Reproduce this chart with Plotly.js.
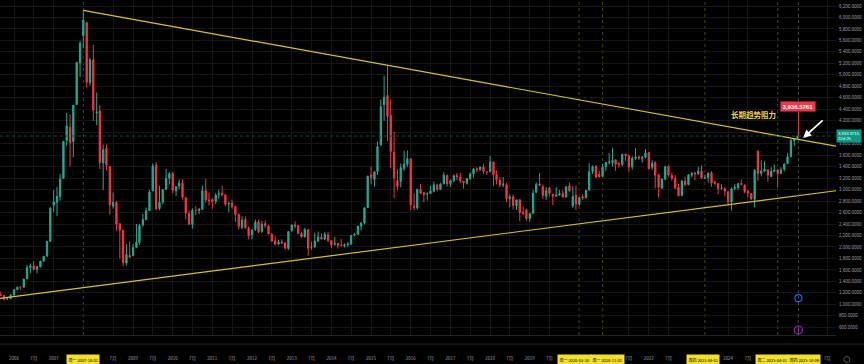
<!DOCTYPE html>
<html>
<head>
<meta charset="utf-8">
<script src="https://cdn.plot.ly/plotly-3.0.1.min.js"></script>
<style>html,body{margin:0;padding:0;background:#000;}#chart{width:864px;height:364px;}</style>
</head>
<body>
<div id="chart"></div>
<script>
// Monthly bars: 2005-09 .. 2025-10 (SSE Composite)
const months = [
 '2005-09-01','2005-10-01','2005-11-01','2005-12-01',
 '2006-01-01','2006-02-01','2006-03-01','2006-04-01','2006-05-01','2006-06-01','2006-07-01','2006-08-01','2006-09-01','2006-10-01','2006-11-01','2006-12-01',
 '2007-01-01','2007-02-01','2007-03-01','2007-04-01','2007-05-01','2007-06-01','2007-07-01','2007-08-01','2007-09-01','2007-10-01','2007-11-01','2007-12-01',
 '2008-01-01','2008-02-01','2008-03-01','2008-04-01','2008-05-01','2008-06-01','2008-07-01','2008-08-01','2008-09-01','2008-10-01','2008-11-01','2008-12-01',
 '2009-01-01','2009-02-01','2009-03-01','2009-04-01','2009-05-01','2009-06-01','2009-07-01','2009-08-01','2009-09-01','2009-10-01','2009-11-01','2009-12-01',
 '2010-01-01','2010-02-01','2010-03-01','2010-04-01','2010-05-01','2010-06-01','2010-07-01','2010-08-01','2010-09-01','2010-10-01','2010-11-01','2010-12-01',
 '2011-01-01','2011-02-01','2011-03-01','2011-04-01','2011-05-01','2011-06-01','2011-07-01','2011-08-01','2011-09-01','2011-10-01','2011-11-01','2011-12-01',
 '2012-01-01','2012-02-01','2012-03-01','2012-04-01','2012-05-01','2012-06-01','2012-07-01','2012-08-01','2012-09-01','2012-10-01','2012-11-01','2012-12-01',
 '2013-01-01','2013-02-01','2013-03-01','2013-04-01','2013-05-01','2013-06-01','2013-07-01','2013-08-01','2013-09-01','2013-10-01','2013-11-01','2013-12-01',
 '2014-01-01','2014-02-01','2014-03-01','2014-04-01','2014-05-01','2014-06-01','2014-07-01','2014-08-01','2014-09-01','2014-10-01','2014-11-01','2014-12-01',
 '2015-01-01','2015-02-01','2015-03-01','2015-04-01','2015-05-01','2015-06-01','2015-07-01','2015-08-01','2015-09-01','2015-10-01','2015-11-01','2015-12-01',
 '2016-01-01','2016-02-01','2016-03-01','2016-04-01','2016-05-01','2016-06-01','2016-07-01','2016-08-01','2016-09-01','2016-10-01','2016-11-01','2016-12-01',
 '2017-01-01','2017-02-01','2017-03-01','2017-04-01','2017-05-01','2017-06-01','2017-07-01','2017-08-01','2017-09-01','2017-10-01','2017-11-01','2017-12-01',
 '2018-01-01','2018-02-01','2018-03-01','2018-04-01','2018-05-01','2018-06-01','2018-07-01','2018-08-01','2018-09-01','2018-10-01','2018-11-01','2018-12-01',
 '2019-01-01','2019-02-01','2019-03-01','2019-04-01','2019-05-01','2019-06-01','2019-07-01','2019-08-01','2019-09-01','2019-10-01','2019-11-01','2019-12-01',
 '2020-01-01','2020-02-01','2020-03-01','2020-04-01','2020-05-01','2020-06-01','2020-07-01','2020-08-01','2020-09-01','2020-10-01','2020-11-01','2020-12-01',
 '2021-01-01','2021-02-01','2021-03-01','2021-04-01','2021-05-01','2021-06-01','2021-07-01','2021-08-01','2021-09-01','2021-10-01','2021-11-01','2021-12-01',
 '2022-01-01','2022-02-01','2022-03-01','2022-04-01','2022-05-01','2022-06-01','2022-07-01','2022-08-01','2022-09-01','2022-10-01','2022-11-01','2022-12-01',
 '2023-01-01','2023-02-01','2023-03-01','2023-04-01','2023-05-01','2023-06-01','2023-07-01','2023-08-01','2023-09-01','2023-10-01','2023-11-01','2023-12-01',
 '2024-01-01','2024-02-01','2024-03-01','2024-04-01','2024-05-01','2024-06-01','2024-07-01','2024-08-01','2024-09-01','2024-10-01','2024-11-01','2024-12-01',
 '2025-01-01','2025-02-01','2025-03-01','2025-04-01','2025-05-01','2025-06-01','2025-07-01','2025-08-01','2025-09-01','2025-10-01'
];
const openV = [
 1162,1155,1092,1099,
 1163,1259,1300,1299,1445,1642,1673,1610,1658,1753,1839,2100,
 2728,2780,2880,3196,3856,4089,3837,4485,5208,5684,5914,4868,
 5265,4336,4372,3463,3716,3403,2714,2775,2407,2294,1720,1856,
 1849,1995,2080,2383,2479,2636,2980,3428,2670,2780,3003,3195,
 3289,2982,3065,3114,2860,2582,2395,2641,2638,2655,2983,2822,
 2825,2798,2921,2937,2909,2751,2767,2703,2566,2345,2483,2329,
 2212,2307,2437,2273,2406,2366,2221,2104,2051,2089,2071,1975,
 2289,2385,2371,2234,2179,2300,1993,1998,2102,2170,2140,2212,
 2113,2047,2059,2034,2022,2038,2050,2205,2220,2364,2418,2687,
 3258,3180,3320,3779,4481,4640,4290,3650,3157,3144,3364,3442,
 3536,2707,2680,3001,2945,2920,2931,2972,3078,3004,3101,3245,
 3105,3160,3244,3215,3144,3110,3197,3273,3365,3352,3396,3310,
 3314,3479,3264,3163,3081,3084,2841,2874,2716,2821,2600,2647,
 2497,2587,2954,3100,3049,2887,3024,2919,2887,2905,2934,2873,
 3066,2716,2900,2743,2875,2860,2991,3316,3402,3262,3231,3400,
 3474,3469,3519,3455,3440,3619,3594,3398,3546,3571,3541,3565,
 3650,3388,3473,3259,3024,3180,3409,3247,3198,3042,2899,3149,
 3088,3253,3288,3274,3322,3198,3207,3292,3130,3107,3024,3022,
 2962,2782,3020,3034,3107,3079,2967,2931,2833,3674,3280,3320,
 3347,3226,3317,3343,3283,3354,3454,3573,3855,3898
];
const highV = [
 1224,1158,1105,1180,
 1260,1304,1305,1445,1685,1712,1757,1667,1763,1840,2099,2698,
 2994,3049,3274,3848,4335,4312,4472,5218,5589,6124,5914,5303,
 5522,4695,4473,3786,3786,3415,2952,2802,2415,2294,2050,2100,
 2051,2402,2402,2579,2689,2995,3454,3478,3068,3004,3361,3306,
 3307,3063,3175,3181,2874,2642,2675,2707,2681,3073,3186,2952,
 2854,2938,3001,3067,2916,2784,2826,2722,2586,2536,2536,2359,
 2315,2478,2476,2454,2461,2386,2243,2187,2128,2133,2087,2276,
 2390,2444,2382,2268,2334,2315,2092,2248,2270,2243,2262,2260,
 2119,2177,2077,2146,2062,2087,2209,2248,2366,2425,2688,3239,
 3406,3324,3835,4572,4986,5178,4572,4006,3358,3454,3678,3684,
 3539,2934,3018,3098,2960,2950,3069,3140,3103,3119,3301,3265,
 3179,3265,3289,3296,3153,3201,3301,3372,3391,3397,3451,3317,
 3587,3495,3334,3220,3219,3114,2916,2916,2827,2838,2703,2666,
 2597,2997,3129,3288,3088,3044,3048,2920,3042,2995,2992,3050,
 3127,3058,3074,2860,2918,3000,3458,3424,3425,3333,3452,3474,
 3637,3731,3530,3481,3625,3623,3614,3581,3723,3595,3584,3709,
 3651,3511,3492,3279,3194,3415,3424,3296,3254,3103,3169,3226,
 3270,3306,3308,3400,3418,3264,3292,3322,3155,3109,3089,3039,
 2976,3040,3098,3117,3175,3089,3000,2939,3358,3674,3509,3495,
 3352,3390,3439,3356,3391,3461,3636,3884,3899,3937
];
const lowV = [
 1142,1067,1074,1097,
 1152,1249,1255,1295,1440,1541,1593,1542,1638,1745,1837,2086,
 2608,2541,2806,3196,3767,3404,3564,4483,4962,5462,4778,4812,
 4196,4123,3358,2990,3333,2566,2669,2284,1802,1664,1678,1814,
 1844,1985,2037,2353,2461,2635,2972,2639,2640,2744,2993,3090,
 2934,2890,3012,2829,2481,2382,2319,2558,2573,2650,2774,2721,
 2661,2749,2839,2886,2709,2610,2668,2437,2307,2307,2319,2134,
 2132,2280,2242,2245,2330,2219,2092,2030,2029,2058,1959,1949,
 2264,2326,2234,2161,2163,1849,1951,1990,2089,2127,2118,2086,
 1985,2029,1974,2014,1991,2010,2040,2183,2209,2289,2391,2680,
 3095,3049,3256,3760,4198,3848,3373,2851,2983,3039,3327,3397,
 2638,2639,2650,2925,2781,2807,2927,2950,2970,2993,3095,3053,
 3044,3131,3161,3111,3016,3090,3167,3206,3301,3325,3276,3254,
 3306,3063,3092,3041,3041,2782,2691,2653,2644,2449,2553,2463,
 2440,2580,2940,3060,2838,2823,2881,2733,2877,2891,2858,2857,
 2950,2685,2646,2720,2820,2840,2987,3272,3202,3209,3219,3325,
 3438,3402,3329,3381,3410,3500,3313,3346,3512,3515,3470,3546,
 3357,3344,3023,2863,3016,3173,3227,3155,3022,2886,2885,3061,
 3074,3217,3165,3260,3185,3183,3120,3053,3072,2923,3000,2883,
 2724,2635,2993,2995,3074,2936,2865,2815,2689,3152,3231,3307,
 3140,3223,3306,3040,3273,3320,3453,3571,3761,3883
];
const closeV = [
 1155,1092,1099,1161,
 1258,1299,1298,1440,1641,1672,1612,1658,1752,1837,2099,2675,
 2786,2881,3183,3841,4109,3820,4471,5218,5552,5955,4871,5262,
 4383,4349,3473,3693,3433,2736,2776,2397,2293,1729,1871,1821,
 1991,2082,2373,2477,2633,2959,3412,2667,2779,2996,3195,3277,
 2989,3052,3110,2871,2592,2398,2638,2639,2655,2979,2820,2808,
 2791,2905,2928,2911,2743,2762,2701,2568,2359,2469,2333,2199,
 2292,2428,2263,2397,2373,2225,2103,2047,2086,2069,1980,2269,
 2385,2366,2237,2178,2301,1979,1994,2098,2175,2141,2220,2116,
 2033,2056,2033,2026,2039,2048,2202,2217,2364,2420,2683,3235,
 3210,3310,3748,4441,4612,4277,3664,3206,3053,3383,3446,3539,
 2738,2688,3004,2938,2917,2930,2979,3085,3005,3100,3250,3104,
 3159,3242,3223,3155,3117,3192,3273,3361,3349,3393,3317,3307,
 3481,3259,3169,3082,3095,2847,2876,2725,2821,2603,2588,2494,
 2585,2941,3091,3078,2899,2979,2933,2886,2905,2929,2872,3050,
 2977,2880,2750,2860,2852,2985,3310,3396,3218,3225,3392,3473,
 3483,3509,3442,3447,3615,3591,3397,3544,3568,3547,3564,3640,
 3361,3462,3252,3047,3186,3399,3253,3202,3024,2893,3151,3089,
 3256,3280,3273,3323,3205,3202,3291,3120,3110,3018,3030,2975,
 2789,3015,3041,3105,3087,2967,2939,2842,3336,3280,3326,3352,
 3250,3321,3336,3279,3347,3444,3573,3858,3883,3934
];

// x-axis tick labels that are visible (others are covered by the date tags)
const tickDates = [
 '2006-01-01','2006-07-01','2007-01-01','2008-07-01','2009-01-01','2009-07-01',
 '2010-01-01','2010-07-01','2011-01-01','2011-07-01','2012-01-01','2012-07-01','2013-01-01','2013-07-01',
 '2014-01-01','2014-07-01','2015-01-01','2015-07-01','2016-01-01','2016-07-01','2017-01-01','2017-07-01',
 '2018-01-01','2018-07-01','2019-01-01','2019-07-01','2021-07-01',
 '2022-01-01','2022-07-01','2024-01-01','2024-07-01','2026-07-01'
];
const tickTexts = [
 '2006','7月','2007','7月','2009','7月',
 '2010','7月','2011','7月','2012','7月','2013','7月',
 '2014','7月','2015','7月','2016','7月','2017','7月',
 '2018','7月','2019','7月','7月',
 '2022','7月','2024','7月','7月'
];
// y-axis ticks; the 4,000 label sits under the last-price tag
const yTickVals = [600,800,1000,1200,1400,1600,1800,2000,2200,2400,2600,2800,3000,3200,3400,3600,3800,4000,
 4200,4400,4600,4800,5000,5200,5400,5600,5800,6000,6200];
const yTickText = ['600.0000','800.0000','1,000.0000','1,200.0000','1,400.0000','1,600.0000','1,800.0000','2,000.0000',
 '2,200.0000','2,400.0000','2,600.0000','2,800.0000','3,000.0000','3,200.0000','3,400.0000','3,600.0000','3,800.0000','',
 '4,200.0000','4,400.0000','4,600.0000','4,800.0000','5,000.0000','5,200.0000','5,400.0000','5,600.0000','5,800.0000',
 '6,000.0000','6,200.0000'];

// trend lines (drawn anchors)
const upperTrendX = ['2007-10-01','2026-09-20'];
const upperTrendY = [6124, 3757];
const lowerTrendX = ['2005-08-25','2026-09-20'];
const lowerTrendY = [1104, 2980];
const trendLabel = '长期趋势阻力';

// marked dates (vertical lines + yellow date tags)
const markDates = ['2007-10-01','2020-03-30','2020-11-02','2023-06-01','2025-04-01'];
const markTexts = ['周一 2007-10-01','周一 2020-03-30','周一 2020-11-02','周四 2023-06-01','周二 2025-04-01'];
const markShift = [0,-5,5,-2,-6];
const cursorDate = '2025-10-09';
const cursorText = '周四 2025-10-09';
const highTag = '3,936.5761';
const highValue = 3936.5761;
const lastPriceText = '3,933.9715<br>22d 2h';
const lastPrice = 3933.9715;

const CJK = 'Noto Sans CJK SC, Noto Sans, sans-serif';
const GRID = '#151515';
const TXT = '#9a9ea8';

const traces = [
 {type:'candlestick', x:months, open:openV, high:highV, low:lowV, close:closeV,
  increasing:{line:{color:'#22ab94', width:1}, fillcolor:'#22ab94'},
  decreasing:{line:{color:'#f23645', width:1}, fillcolor:'#f23645'},
  whiskerwidth:0, hoverinfo:'skip', showlegend:false},
 {type:'scatter', mode:'lines', x:upperTrendX, y:upperTrendY, line:{color:'#d8c12c', width:1.2}, hoverinfo:'skip', showlegend:false},
 {type:'scatter', mode:'lines', x:lowerTrendX, y:lowerTrendY, line:{color:'#d8c12c', width:1.2}, hoverinfo:'skip', showlegend:false}
];

const shapes = [];
markDates.forEach(d => shapes.push({type:'line', xref:'x', yref:'paper', x0:d, x1:d, y0:0, y1:1,
  line:{color:'#4a431a', width:1, dash:'dot'}, layer:'below'}));
shapes.push({type:'line', xref:'x', yref:'paper', x0:cursorDate, x1:cursorDate, y0:0, y1:1,
  line:{color:'#4a4a4a', width:1, dash:'dot'}});
shapes.push({type:'line', xref:'x', yref:'y', x0:cursorDate, x1:cursorDate, y0:highValue, y1:4380,
  line:{color:'#f23645', width:1}});
shapes.push({type:'line', xref:'paper', yref:'y', x0:0, x1:1, y0:lastPrice, y1:lastPrice,
  line:{color:'#0d4f47', width:1, dash:'dot'}});
shapes.push({type:'line', xref:'paper', yref:'paper', x0:0, x1:1.04, y0:-0.027, y1:-0.027,
  line:{color:'#242424', width:1}});
// event markers at bottom
shapes.push({type:'circle', xref:'x', yref:'paper', xsizemode:'pixel', ysizemode:'pixel',
  xanchor:cursorDate, yanchor:0.11, x0:-3.5, x1:3.5, y0:-3.5, y1:3.5, line:{color:'#2962ff', width:1.2}});
shapes.push({type:'circle', xref:'x', yref:'paper', xsizemode:'pixel', ysizemode:'pixel',
  xanchor:cursorDate, yanchor:0.015, x0:-4, x1:4, y0:-4, y1:4, line:{color:'#9c27b0', width:1.2}});
shapes.push({type:'line', xref:'x', yref:'paper', xsizemode:'pixel', ysizemode:'pixel',
  xanchor:cursorDate, yanchor:0.015, x0:0, x1:0, y0:-2, y1:2, line:{color:'#9c27b0', width:1}});
shapes.push({type:'circle', xref:'paper', yref:'paper', xsizemode:'pixel', ysizemode:'pixel',
  xanchor:1.013, yanchor:-0.073, x0:-3, x1:3, y0:-3, y1:3, line:{color:'#555', width:1}});

const annotations = [];
markDates.forEach((d,i) => annotations.push({xref:'x', yref:'paper', x:d, y:-0.073, yanchor:'middle',
  text:markTexts[i], showarrow:false, xshift:markShift[i], bgcolor:'#f2e02c', borderpad:1.5,
  font:{family:CJK, size:4, color:'#000'}}));
annotations.push({xref:'x', yref:'paper', x:cursorDate, y:-0.073, yanchor:'middle', text:cursorText,
  showarrow:false, xshift:6, bgcolor:'#f2e02c', borderpad:1.5, font:{family:CJK, size:4, color:'#000'}});
annotations.push({xref:'x', yref:'y', x:cursorDate, y:4455, text:'<b>'+highTag+'</b>', showarrow:false,
  bgcolor:'#f23645', bordercolor:'#3a1a40', borderwidth:0.5, borderpad:2, font:{family:'Liberation Sans, Arial', size:6, color:'#fff'}});
annotations.push({xref:'x', yref:'y', x:'2024-08-17', y:4315, text:'<b>'+trendLabel+'</b>', showarrow:false,
  font:{family:CJK, size:7.5, color:'#efd43b'}});
annotations.push({xref:'x', yref:'y', x:'2025-11-21', y:3900, ax:21, ay:-19, text:'', showarrow:true,
  arrowcolor:'#ffffff', arrowwidth:1.8, arrowhead:2, arrowsize:0.9});
annotations.push({xref:'paper', yref:'y', x:1, y:lastPrice, xanchor:'left', yanchor:'middle', text:lastPriceText,
  showarrow:false, align:'left', bgcolor:'#089981', borderpad:1, font:{family:'Liberation Sans, Arial', size:4.2, color:'#fff'}});

const layout = {
 width:864, height:364,
 margin:{l:0, r:28, t:0, b:29, pad:0},
 paper_bgcolor:'#000000', plot_bgcolor:'#000000',
 showlegend:false, boxgap:0.4,
 xaxis:{type:'date', range:['2005-08-25','2026-09-20'], tickmode:'array', tickvals:tickDates, ticktext:tickTexts,
  tickfont:{family:CJK, size:4.5, color:TXT}, showgrid:true, gridcolor:GRID, gridwidth:1, zeroline:false,
  showline:true, linecolor:'#242424', linewidth:1, ticks:'', ticklabelstandoff:19,
  rangeslider:{visible:false}, fixedrange:true},
 yaxis:{side:'right', range:[466, 6305], tickmode:'array', tickvals:yTickVals, ticktext:yTickText,
  tickfont:{family:'Liberation Sans, Arial', size:4.5, color:TXT}, showgrid:true, gridcolor:GRID, gridwidth:1,
  zeroline:false, showline:false, ticks:'', ticklabelstandoff:2, fixedrange:true},
 shapes:shapes, annotations:annotations
};

Plotly.newPlot('chart', traces, layout, {displayModeBar:false, staticPlot:true});
</script>
</body>
</html>
